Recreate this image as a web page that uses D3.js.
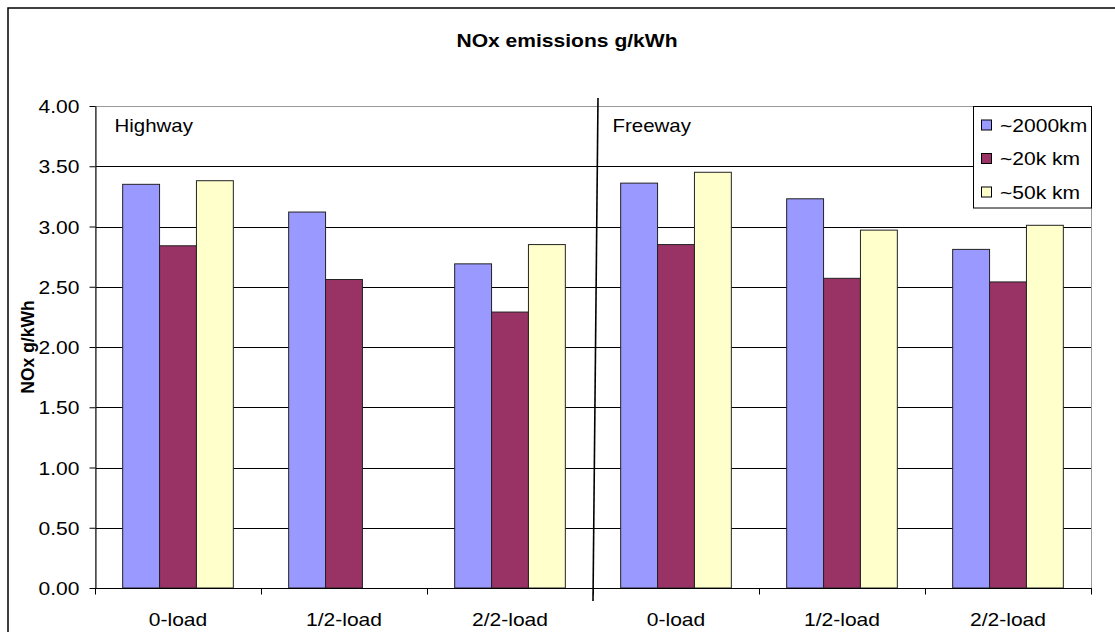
<!DOCTYPE html>
<html>
<head>
<meta charset="utf-8">
<script src="https://cdn.jsdelivr.net/npm/d3@7"></script>
<style>
  html, body { margin: 0; padding: 0; background: #fff; }
  svg { display: block; }
  text { font-family: "Liberation Sans", Arial, sans-serif; fill: #000; }
</style>
</head>
<body>
<svg id="chart" width="1115" height="632"></svg>
<script>
// Road types and load conditions
const roads = ["Highway", "Freeway"];
const loads = ["0-load", "1/2-load", "2/2-load"];
// Mileage series
const series = ["~2000km", "~20k km", "~50k km"];
const colors = ["#9999FF", "#993366", "#FFFFCC"];
// NOx g/kWh per road × load, one array per series (null = no measurement)
const km2000 = [3.35, 3.12, 2.69, 3.36, 3.23, 2.81];
const km20k  = [2.84, 2.56, 2.29, 2.85, 2.57, 2.54];
const km50k  = [3.38, null, 2.85, 3.45, 2.97, 3.01];
const yTicks = [0, 0.5, 1, 1.5, 2, 2.5, 3, 3.5, 4];

const values = [km2000, km20k, km50k];
const cats = [];
roads.forEach(r => loads.forEach(l => cats.push(r + "|" + l)));

const SX = 1.17; // horizontal text stretch
const svg = d3.select("#chart");
const plot = { left: 95, right: 1091, top: 106, bottom: 588 };

// outer chart frame
svg.append("rect")
  .attr("x", 8).attr("y", 8).attr("width", 1140).attr("height", 700)
  .attr("fill", "#fff").attr("stroke", "#000").attr("stroke-width", 1.5);

const x = d3.scaleBand().domain(cats).range([plot.left, plot.right]).padding(0);
const xi = d3.scaleBand().domain(series).range([0, x.bandwidth()])
  .paddingInner(0).paddingOuter(0.75);
const y = d3.scaleLinear().domain([0, 4]).range([plot.bottom, plot.top]);

function stretchText(sel, px, py) {
  return sel.attr("transform", `translate(${px},${py}) scale(${SX},1)`);
}

// title
stretchText(svg.append("text"), 567, 47)
  .attr("text-anchor", "middle")
  .style("font-size", "18px").style("font-weight", "bold")
  .text("NOx emissions g/kWh");

// y axis title
svg.append("text")
  .attr("transform", "translate(34,347) rotate(-90)")
  .attr("text-anchor", "middle")
  .style("font-size", "17.5px").style("font-weight", "bold")
  .text("NOx g/kWh");

// gridlines
svg.append("g").selectAll("line")
  .data(yTicks.filter(t => t > 0 && t < 4))
  .join("line")
  .attr("x1", plot.left).attr("x2", plot.right)
  .attr("y1", d => Math.round(y(d)) + 0.5).attr("y2", d => Math.round(y(d)) + 0.5)
  .attr("stroke", "#000").attr("stroke-width", 1);

// plot area border
svg.append("rect")
  .attr("x", plot.left + 0.5).attr("y", plot.top + 0.5)
  .attr("width", plot.right - plot.left).attr("height", plot.bottom - plot.top)
  .attr("fill", "none").attr("stroke", "#999").attr("stroke-width", 1);

// bars
const bars = [];
cats.forEach((c, ci) => series.forEach((s, si) => {
  const v = values[si][ci];
  if (v != null) bars.push({ c, s, si, v });
}));
svg.append("g").selectAll("rect")
  .data(bars)
  .join("rect")
  .attr("x", d => x(d.c) + xi(d.s))
  .attr("y", d => y(d.v))
  .attr("width", xi.bandwidth())
  .attr("height", d => y(0) - y(d.v))
  .attr("fill", d => colors[d.si])
  .attr("stroke", "#222").attr("stroke-width", 1);

// y axis
const yAxis = svg.append("g")
  .attr("transform", `translate(${plot.left + 0.5},0)`)
  .call(d3.axisLeft(y).tickValues(yTicks).tickFormat(d3.format(".2f")).tickSize(6).tickSizeOuter(0));
yAxis.select(".domain").attr("stroke", "#000");
yAxis.selectAll(".tick line").attr("stroke", "#000");
yAxis.selectAll(".tick text")
  .attr("x", null).attr("dy", null)
  .attr("transform", `translate(-16,6.5) scale(${SX},1)`)
  .style("font-size", "18px").style("font-family", "'Liberation Sans', Arial, sans-serif");

// x axis with ticks at category boundaries
const xAxisG = svg.append("g").attr("transform", `translate(0,${plot.bottom + 0.5})`);
xAxisG.append("line")
  .attr("x1", plot.left).attr("x2", plot.right + 1)
  .attr("stroke", "#000");
xAxisG.selectAll("line.tk")
  .data(d3.range(cats.length + 1))
  .join("line").attr("class", "tk")
  .attr("x1", i => Math.round(plot.left + i * x.step()) + 0.5)
  .attr("x2", i => Math.round(plot.left + i * x.step()) + 0.5)
  .attr("y1", 0).attr("y2", 6)
  .attr("stroke", "#000");
cats.forEach(c => {
  stretchText(xAxisG.append("text"), x(c) + x.bandwidth() / 2, 37)
    .attr("text-anchor", "middle")
    .style("font-size", "18px")
    .text(c.split("|")[1]);
});

// road section labels
roads.forEach((r, i) => {
  const cx = x(r + "|" + loads[0]);
  stretchText(svg.append("text"), cx + 19.5, 131.5)
    .style("font-size", "17.5px")
    .text(r);
});

// divider between road sections
svg.append("line")
  .attr("x1", 598).attr("y1", 98)
  .attr("x2", 593).attr("y2", 601)
  .attr("stroke", "#000").attr("stroke-width", 1.6);

// legend
const lg = svg.append("g");
lg.append("rect")
  .attr("x", 973.5).attr("y", 106.5).attr("width", 118).attr("height", 101.5)
  .attr("fill", "#fff").attr("stroke", "#000").attr("stroke-width", 1);
series.forEach((s, i) => {
  const cy = 125 + i * 33.5;
  lg.append("rect")
    .attr("x", 981.5).attr("y", cy - 5).attr("width", 10).attr("height", 10)
    .attr("fill", colors[i]).attr("stroke", "#000").attr("stroke-width", 1);
  stretchText(lg.append("text"), 1000, cy + 6.5)
    .style("font-size", "18px")
    .text(s);
});
</script>
</body>
</html>
